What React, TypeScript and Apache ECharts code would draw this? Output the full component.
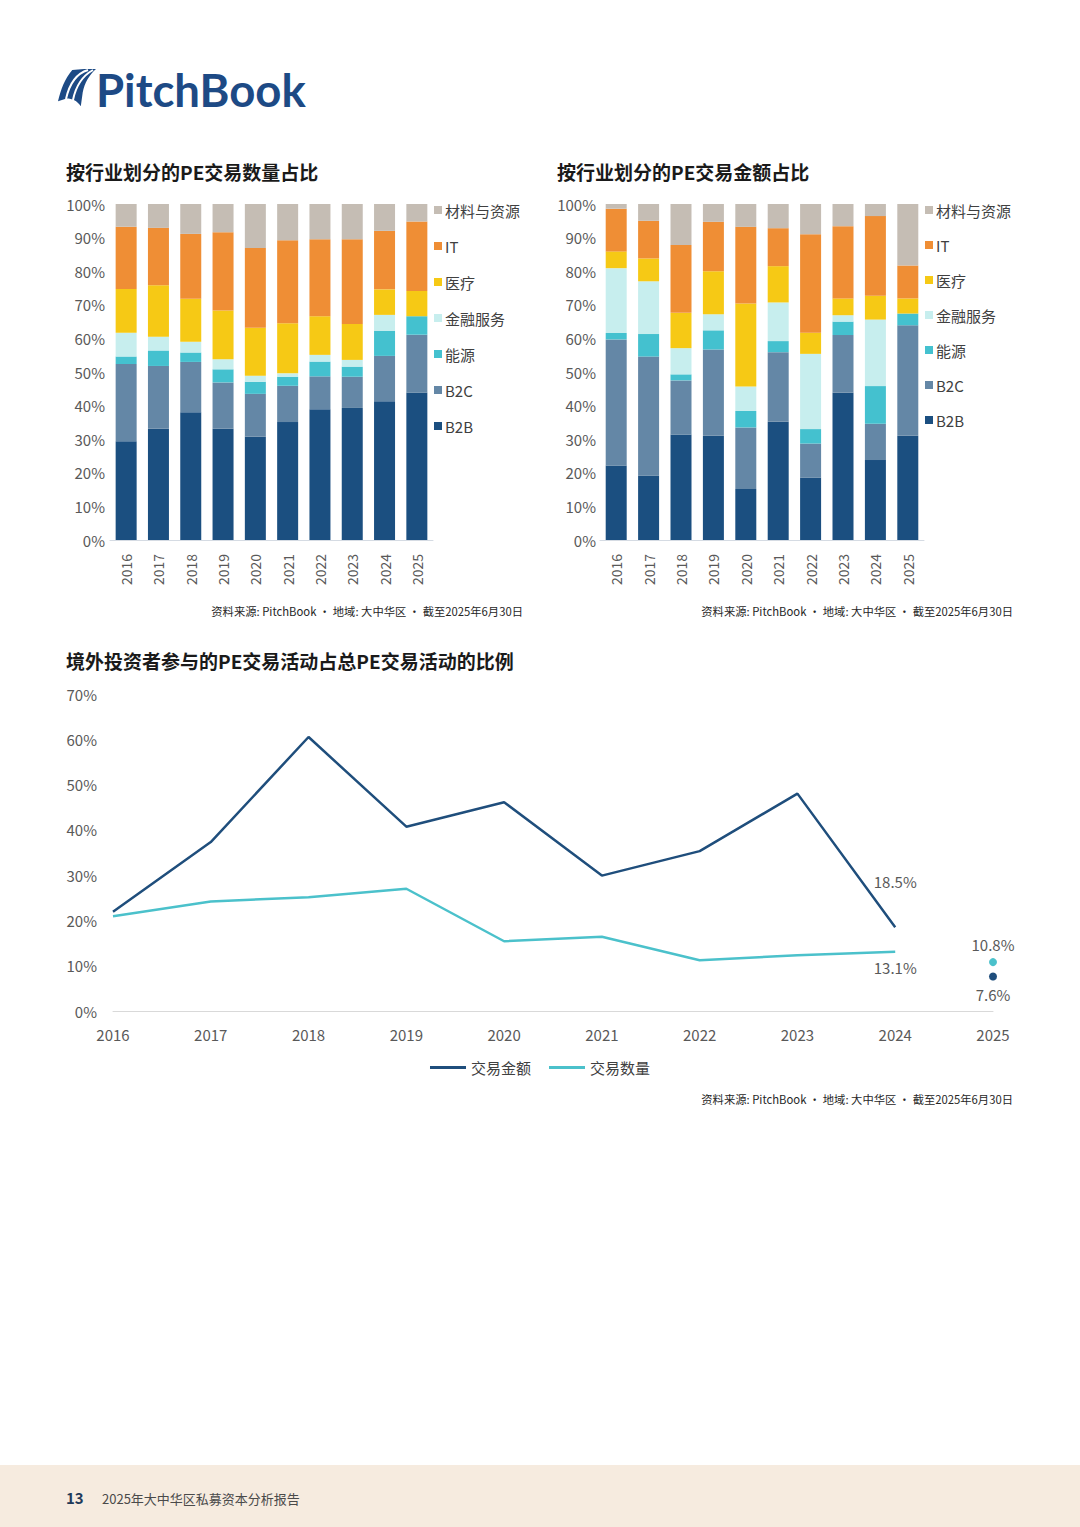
import React, { useEffect, useRef } from 'react';
import * as echarts from 'echarts';

const years = ['2016', '2017', '2018', '2019', '2020', '2021', '2022', '2023', '2024', '2025'];
const sectors = ['B2B', 'B2C', '能源', '金融服务', '医疗', 'IT', '材料与资源'];
const legendOrder = ['材料与资源', 'IT', '医疗', '金融服务', '能源', 'B2C', 'B2B'];
const sectorColors = ['#1b4f80', '#6487a6', '#44c1cf', '#c7eeee', '#f6c915', '#ef8e35', '#c5bdb4'];

// PE deal count share by sector (%)
const countB2B = [29.4, 33.1, 38.0, 33.1, 30.7, 35.1, 38.9, 39.3, 41.3, 43.9];
const countB2C = [23.0, 18.7, 15.0, 13.8, 12.8, 10.8, 9.8, 9.3, 13.5, 17.2];
const countEnergy = [2.2, 4.6, 2.8, 3.9, 3.6, 2.7, 4.4, 3.0, 7.5, 5.5];
const countFinance = [7.1, 4.1, 3.2, 3.0, 1.8, 1.0, 2.0, 2.0, 4.7, 0];
const countHealth = [13.0, 15.3, 12.8, 14.5, 14.3, 14.9, 11.5, 10.7, 7.6, 7.5];
const countIT = [18.5, 17.1, 19.3, 23.3, 23.7, 24.7, 22.9, 25.2, 17.4, 20.7];
const countMaterials = [6.8, 7.1, 8.9, 8.4, 13.1, 10.8, 10.5, 10.5, 8.0, 5.2];

// PE deal value share by sector (%)
const valueB2B = [22.2, 19.2, 31.4, 31.0, 15.2, 35.2, 18.6, 43.8, 23.8, 31.0];
const valueB2C = [37.5, 35.4, 16.1, 25.7, 18.3, 20.7, 10.1, 17.2, 10.8, 32.9];
const valueEnergy = [1.9, 6.7, 1.8, 5.7, 4.9, 3.3, 4.3, 4.0, 11.2, 3.5];
const valueFinance = [19.3, 15.7, 7.8, 4.8, 7.3, 11.5, 22.4, 1.9, 19.8, 0];
const valueHealth = [5.0, 6.8, 10.5, 12.8, 24.7, 10.8, 6.3, 5.0, 7.1, 4.5];
const valueIT = [12.7, 11.2, 20.2, 14.7, 22.8, 11.3, 29.3, 21.5, 23.7, 9.8];
const valueMaterials = [1.4, 5.0, 12.2, 5.3, 6.8, 7.2, 9.0, 6.6, 3.6, 18.3];

// Foreign investor participation share (%)
const foreignAmount = [21.9, 37.3, 60.5, 40.7, 46.1, 29.9, 35.3, 48.0, 18.5, 7.6];
const foreignCount = [20.9, 24.2, 25.1, 27.0, 15.4, 16.4, 11.2, 12.3, 13.1, 10.8];
const lineNames = ['交易金额', '交易数量'];
const lineColors = ['#1f4e7c', '#4bc1cb'];

const barYTicks = { min: 0, max: 100, interval: 10 };
const lineYTicks = { min: 0, max: 70, interval: 10 };

const FONT = '"Noto Sans CJK SC", "Noto Sans", sans-serif';
const LABEL_COLOR = '#595959';
const SOURCE_TEXT = '资料来源: PitchBook • 地域: 大中华区 • 截至2025年6月30日';

const logoPath =
  'M15 1 C23 0 32 0 40 0 C33 6 28 14 26 24 L24 38 C20 32 15 30 9 30 L0 33 C3 21 7 10 15 1 Z';
echarts.graphic.registerShape('pbLogo', echarts.graphic.extendPath(logoPath, {}) as any);

function makeBars(arrays: number[][], axisIdx: number, stack: string) {
  return sectors.map((name, i) => ({
    type: 'bar',
    name,
    stack,
    xAxisIndex: axisIdx,
    yAxisIndex: axisIdx,
    data: arrays[i],
    barWidth: 21,
    itemStyle: { color: sectorColors[i] },
    emphasis: { disabled: true },
  }));
}

function barXAxis(gridIndex: number) {
  return {
    type: 'category',
    gridIndex,
    data: years,
    axisTick: { show: false },
    axisLine: { lineStyle: { color: '#d5dbe3', width: 1 } },
    axisLabel: { rotate: 90, fontSize: 14, color: LABEL_COLOR, margin: 14, fontFamily: FONT },
  };
}

function barYAxis(gridIndex: number, margin: number) {
  return {
    type: 'value',
    gridIndex,
    ...barYTicks,
    splitLine: { show: false },
    axisLine: { show: false },
    axisTick: { show: false },
    axisLabel: { formatter: '{value}%', fontSize: 15, color: LABEL_COLOR, margin, fontFamily: FONT },
  };
}

function barLegend(left: number, gap: number) {
  return {
    data: legendOrder,
    orient: 'vertical',
    left,
    top: 197,
    itemWidth: 8,
    itemHeight: 8,
    itemGap: gap,
    icon: 'rect',
    selectedMode: false,
    textStyle: { fontSize: 15, color: '#404040', fontFamily: FONT, lineHeight: 16, padding: [0, 0, 0, -2] },
  };
}

const pct = (v: number) => v.toFixed(1) + '%';

const countArrays = [countB2B, countB2C, countEnergy, countFinance, countHealth, countIT, countMaterials];
const valueArrays = [valueB2B, valueB2C, valueEnergy, valueFinance, valueHealth, valueIT, valueMaterials];

const last = years.length - 1;

const lineSeries = [foreignAmount, foreignCount].map((arr, k) => ({
  type: 'line',
  name: lineNames[k],
  xAxisIndex: 2,
  yAxisIndex: 2,
  color: lineColors[k],
  symbol: 'circle',
  symbolSize: 0,
  showSymbol: true,
  lineStyle: { width: 2.5, color: lineColors[k] },
  emphasis: { disabled: true },
  data: arr.slice(0, last).map((v, i) => ({
    value: v,
    label: {
      show: i === last - 1,
      position: k === 0 ? 'top' : 'bottom',
      distance: k === 0 ? 38 : 8,
      formatter: () => pct(v),
      fontSize: 15,
      color: LABEL_COLOR,
      fontFamily: FONT,
    },
  })),
}));

const dotSeries = [foreignAmount, foreignCount].map((arr, k) => ({
  type: 'scatter',
  name: lineNames[k] + ' ' + years[last],
  xAxisIndex: 2,
  yAxisIndex: 2,
  symbolSize: 8,
  itemStyle: { color: lineColors[k], opacity: 1 },
  emphasis: { disabled: true },
  label: {
    show: true,
    position: k === 0 ? 'bottom' : 'top',
    distance: 6,
    formatter: () => pct(arr[last]),
    fontSize: 15,
    color: LABEL_COLOR,
    fontFamily: FONT,
  },
  data: [[years[last], arr[last]]],
}));

const option: any = {
  animation: false,
  backgroundColor: '#ffffff',
  textStyle: { fontFamily: FONT },
  grid: [
    { left: 110, top: 204, width: 323, height: 336 },
    { left: 600, top: 204, width: 324, height: 336 },
    { left: 113, top: 694, width: 880, height: 317 },
  ],
  xAxis: [
    barXAxis(0),
    barXAxis(1),
    {
      type: 'category',
      gridIndex: 2,
      data: years,
      boundaryGap: false,
      axisTick: { show: false },
      axisLine: { lineStyle: { color: '#d9d9d9', width: 1 } },
      axisLabel: { fontSize: 15, color: LABEL_COLOR, margin: 16, fontFamily: FONT },
    },
  ],
  yAxis: [
    barYAxis(0, 5),
    barYAxis(1, 4),
    {
      type: 'value',
      gridIndex: 2,
      ...lineYTicks,
      splitLine: { show: false },
      axisLine: { show: false },
      axisTick: { show: false },
      axisLabel: { formatter: '{value}%', fontSize: 15, color: LABEL_COLOR, margin: 16, fontFamily: FONT },
    },
  ],
  legend: [
    barLegend(429, 20),
    barLegend(920, 19),
    {
      data: lineNames,
      left: 'center',
      top: 1055,
      itemWidth: 36,
      itemHeight: 3,
      itemGap: 18,
      icon: 'rect',
      selectedMode: false,
      textStyle: { fontSize: 15, color: '#404040', fontFamily: FONT },
    },
  ],
  series: [...makeBars(countArrays, 0, 'count'), ...makeBars(valueArrays, 1, 'value'), ...lineSeries, ...dotSeries],
  graphic: [
    { type: 'pbLogo', x: 58, y: 69, scaleX: 0.95, scaleY: 0.98, style: { fill: '#1d4a85' } },
    {
      type: 'bezierCurve',
      shape: { x1: 8, y1: 30, x2: 30, y2: 1, cpx1: 12, cpy1: 12, cpx2: 20, cpy2: 4 },
      x: 58,
      y: 69,
      style: { stroke: '#ffffff', lineWidth: 2, fill: 'none' },
    },
    {
      type: 'bezierCurve',
      shape: { x1: 15, y1: 31, x2: 35, y2: 1, cpx1: 18, cpy1: 16, cpx2: 26, cpy2: 6 },
      x: 58,
      y: 69,
      style: { stroke: '#ffffff', lineWidth: 2, fill: 'none' },
    },
    {
      type: 'text',
      x: 96,
      y: 89,
      style: {
        text: 'PitchBook',
        fontSize: 45.5,
        fontWeight: 'bold',
        fontFamily: 'Lato, "Noto Sans", sans-serif',
        fill: '#1d4a85',
        verticalAlign: 'middle',
        align: 'left',
      },
    },
    {
      type: 'text',
      x: 66,
      y: 171,
      style: { text: '按行业划分的PE交易数量占比', fontSize: 19, fontWeight: 'bold', fontFamily: FONT, fill: '#1a1a1a', verticalAlign: 'middle' },
    },
    {
      type: 'text',
      x: 557,
      y: 171,
      style: { text: '按行业划分的PE交易金额占比', fontSize: 19, fontWeight: 'bold', fontFamily: FONT, fill: '#1a1a1a', verticalAlign: 'middle' },
    },
    {
      type: 'text',
      x: 66,
      y: 660,
      style: { text: '境外投资者参与的PE交易活动占总PE交易活动的比例', fontSize: 19, fontWeight: 'bold', fontFamily: FONT, fill: '#1a1a1a', verticalAlign: 'middle' },
    },
    {
      type: 'text',
      x: 523,
      y: 611,
      style: { text: SOURCE_TEXT, fontSize: 11.3, fontFamily: FONT, fill: '#262626', align: 'right', verticalAlign: 'middle' },
    },
    {
      type: 'text',
      x: 1013,
      y: 611,
      style: { text: SOURCE_TEXT, fontSize: 11.3, fontFamily: FONT, fill: '#262626', align: 'right', verticalAlign: 'middle' },
    },
    {
      type: 'text',
      x: 1013,
      y: 1099,
      style: { text: SOURCE_TEXT, fontSize: 11.3, fontFamily: FONT, fill: '#262626', align: 'right', verticalAlign: 'middle' },
    },
    { type: 'rect', shape: { x: 0, y: 1465, width: 1080, height: 62 }, style: { fill: '#f6ebdf' }, z: -1 },
    {
      type: 'text',
      x: 66,
      y: 1497,
      style: { text: '13', fontSize: 15, fontWeight: 'bold', fontFamily: FONT, fill: '#1f3a5a', verticalAlign: 'middle' },
    },
    {
      type: 'text',
      x: 102,
      y: 1498,
      style: { text: '2025年大中华区私募资本分析报告', fontSize: 13, fontFamily: FONT, fill: '#4a4a4a', verticalAlign: 'middle' },
    },
  ],
};

export default function App() {
  const ref = useRef<HTMLDivElement>(null);
  useEffect(() => {
    if (!ref.current) return;
    const chart = echarts.init(ref.current, null, { renderer: 'svg' });
    chart.setOption(option);
    return () => chart.dispose();
  }, []);
  return (
    <div
      ref={ref}
      style={{ position: 'absolute', left: 0, top: 0, width: 1080, height: 1527, background: '#ffffff' }}
    />
  );
}
